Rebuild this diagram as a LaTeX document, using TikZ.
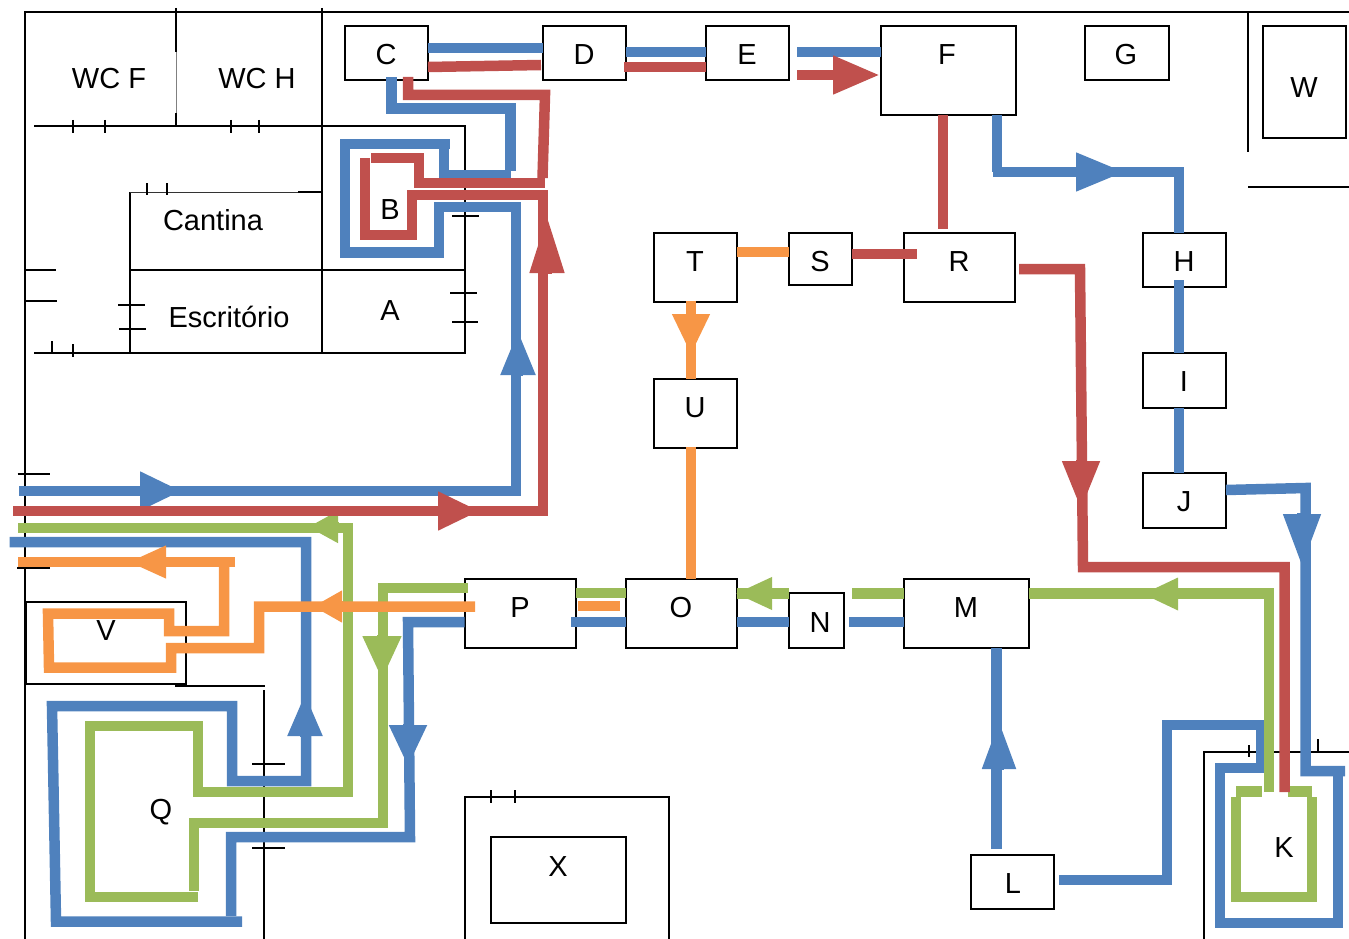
\documentclass[tikz,border=0pt]{standalone}
\usepackage{fontspec}
\setmainfont{Liberation Sans}
\usetikzlibrary{arrows.meta}
\definecolor{cazul}{HTML}{4F81BD}
\definecolor{cvermelho}{HTML}{C0504D}
\definecolor{cverde}{HTML}{9BBB59}
\definecolor{claranja}{HTML}{F79646}
\tikzset{
parede/.style={line width=2pt, black},
caixa/.style={draw, line width=2pt, anchor=north west, inner sep=0pt, outer sep=0pt},
rotulo/.style={inner sep=0pt, yshift=-1pt, font=\fontsize{29}{32}\selectfont},
azul/.style={line width=10.5pt, cazul},
vermelho/.style={line width=10.5pt, cvermelho},
verde/.style={line width=10.5pt, cverde},
laranja/.style={line width=10.5pt, claranja}
}
\begin{document}
\begin{tikzpicture}[x=1pt, y=-1pt]
\useasboundingbox (0,0) rectangle (1349,939);
% paredes
\draw[parede] (1349,12.5)--(24.5,12.5)--(24.5,939);
\draw[parede] (175.5,8)--(175.5,52);
\draw[gray, line width=.8pt] (176.5,52)--(176.5,113);
\draw[parede] (175.5,113)--(175.5,127);
\draw[parede] (322,8)--(322,353);
\draw[parede] (34,126.5)--(465,126.5)--(465,353)--(34,353);
\draw[parede] (73,120)--(73,133);
\draw[parede] (105,120)--(105,133);
\draw[parede] (231,120)--(231,133);
\draw[parede] (259,120)--(259,133);
\draw[parede] (129.5,353)--(129.5,192);
\draw[black!80, line width=1pt] (129.5,192)--(298,192);
\draw[parede] (298,192)--(322,192);
\draw[parede] (147,183)--(147,195);
\draw[parede] (167,183)--(167,195);
\draw[parede] (129.5,270)--(465,270);
\draw[parede] (24,270)--(56,270);
\draw[parede] (24,301)--(57,301);
\draw[parede] (118,305)--(145,305);
\draw[parede] (119,329)--(146,329);
\draw[parede] (52,341)--(52,353);
\draw[parede] (73,344)--(73,357);
\draw[parede] (452,216)--(479,216);
\draw[parede] (450,293)--(477,293);
\draw[parede] (452,322)--(478,322);
\draw[parede] (1248,12)--(1248,152);
\draw[parede] (1248,186.5)--(1349,186.5);
\draw[parede] (17.5,473.5)--(50,473.5);
\draw[parede] (17,568)--(50,568);
\draw[parede] (175,686)--(265,686);
\draw[parede] (264,690)--(264,939);
\draw[parede] (252,763.5)--(285,763.5);
\draw[parede] (252,848)--(285,848);
\draw[parede] (464.5,939)--(464.5,797)--(668.5,797)--(668.5,939);
\draw[parede] (491,790)--(491,803);
\draw[parede] (515,790)--(515,803);
\draw[parede] (1204,939)--(1204,752)--(1349,752);
\draw[parede] (1249,745)--(1249,757);
\draw[parede] (1318,739)--(1318,752);
% caixas
\node[caixa, minimum width=83.5, minimum height=54.5] (C) at (344.5,26) {};
\node[caixa, minimum width=83.5, minimum height=54.5] (D) at (542.5,26) {};
\node[caixa, minimum width=83.5, minimum height=54.5] (E) at (705.5,26) {};
\node[caixa, minimum width=135, minimum height=89] (F) at (880.5,26) {};
\node[caixa, minimum width=83.5, minimum height=54.5] (G) at (1085,26) {};
\node[caixa, minimum width=83.5, minimum height=112] (W) at (1262.5,26) {};
\node[caixa, minimum width=83.5, minimum height=69] (T) at (653.5,232.5) {};
\node[caixa, minimum width=63.5, minimum height=52] (S) at (788.5,232.5) {};
\node[caixa, minimum width=111.5, minimum height=69] (R) at (903.5,232.5) {};
\node[caixa, minimum width=83, minimum height=54.5] (H) at (1143,232.5) {};
\node[caixa, minimum width=83, minimum height=54.5] (I) at (1143,353) {};
\node[caixa, minimum width=83, minimum height=54.5] (J) at (1143,473) {};
\node[caixa, minimum width=83.5, minimum height=68.5] (U) at (653.5,379) {};
\node[caixa, minimum width=111.5, minimum height=69] (P) at (464.5,579) {};
\node[caixa, minimum width=111.5, minimum height=69] (O) at (625.5,579) {};
\node[caixa, minimum width=54.5, minimum height=55] (N) at (789,593) {};
\node[caixa, minimum width=125.5, minimum height=69] (M) at (903.5,579) {};
\node[caixa, minimum width=83, minimum height=54.5] (L) at (971,854.5) {};
\node[caixa, minimum width=135.5, minimum height=86] (X) at (490.5,837) {};
\node[caixa, minimum width=160, minimum height=82] (V) at (26,602) {};
% textos
\node[rotulo] (wcf) at (109,78) {WC F};
\node[rotulo] (wch) at (257,78) {WC H};
\node[rotulo] (cantina) at (213,219) {Cantina};
\node[rotulo] (escritorio) at (229,316) {Escritório};
\node[rotulo] (lA) at (390,310) {A};
\node[rotulo] (lB) at (390,209) {B};
\node[rotulo] (lC) at (386,54) {C};
\node[rotulo] (lD) at (584,54) {D};
\node[rotulo] (lE) at (747,54) {E};
\node[rotulo] (lF) at (947,54) {F};
\node[rotulo] (lG) at (1126,54) {G};
\node[rotulo] (lW) at (1304,87) {W};
\node[rotulo] (lT) at (695,261) {T};
\node[rotulo] (lS) at (820,261) {S};
\node[rotulo] (lR) at (959,261) {R};
\node[rotulo] (lH) at (1184,261) {H};
\node[rotulo] (lI) at (1184,381) {I};
\node[rotulo] (lJ) at (1184,501) {J};
\node[rotulo] (lU) at (695,407) {U};
\node[rotulo] (lP) at (520,607) {P};
\node[rotulo] (lO) at (681,607) {O};
\node[rotulo] (lN) at (820,622) {N};
\node[rotulo] (lM) at (966,607) {M};
\node[rotulo] (lQ) at (161,811) {Q};
\node[rotulo] (lV) at (106,630) {V};
\node[rotulo] (lK) at (1284,847) {K};
\node[rotulo] (lL) at (1013,883) {L};
\node[rotulo] (lX) at (558,866) {X};
% azul
\draw[azul] (19,491)--(516,491)--(516,207)--(439,207)--(439,252.5)--(345,252.5)--(345,144)--(450,144);
\draw[azul] (444,144)--(444,175)--(510.5,175);
\draw[azul] (510.5,171)--(510.5,108.5)--(391.5,108.5)--(391.5,77);
\draw[azul] (C.east|-0,48)--(D.west|-0,48);
\draw[azul] (D.east|-0,52)--(E.west|-0,52);
\draw[azul] (797,52)--(F.west|-0,52);
\draw[azul] (997,115)--(997,172);
\draw[azul] (993,172)--(1179,172)--(H.north-|1179,0);
\draw[azul] (1179,280)--(I.north-|1179,0);
\draw[azul] (I.south-|1179,0)--(J.north-|1179,0);
\draw[azul] (J.east|-0,490)--(1305.5,488)--(1305.5,771)--(1345,771);
\draw[azul] (1338,766)--(1338,923)--(1220,923)--(1220,768)--(1261,768)--(1261,725)--(1167,725)--(1167,880)--(1059,880);
\draw[azul] (996.5,849)--(M.south-|996.5,0);
\draw[azul] (O.east|-0,622)--(N.west|-0,622);
\draw[azul] (849,622)--(M.west|-0,622);
\draw[azul] (571,622)--(O.west|-0,622);
\draw[azul] (P.west|-0,622)--(408,622)--(410,837)--(231,837)--(231,916);
\draw[azul] (242,921.5)--(56,921.5)--(52,706)--(232,706)--(232,781)--(306,781)--(306,542)--(9.5,542);
\draw[azul, -{Triangle[length=42pt,width=36pt]}] (139,491)--(182,491);
\draw[azul, -{Triangle[length=45pt,width=32pt]}] (518,376)--(518,330);
\draw[azul, -{Triangle[length=49pt,width=36pt]}] (1075,172)--(1125,172);
\draw[azul, -{Triangle[length=53pt,width=35pt]}] (1302,513)--(1302,567);
\draw[azul, -{Triangle[length=49pt,width=31pt]}] (999,770)--(999,720);
\draw[azul, -{Triangle[length=42pt,width=35pt]}] (408,724)--(408,767);
\draw[azul, -{Triangle[length=43pt,width=32pt]}] (305,737)--(305,693);
% verde
\draw[verde] (M.east|-0,593.5)--(1269,593.5)--(1269,792);
\draw[verde] (M.west|-0,593.5)--(852,593.5);
\draw[verde] (N.west|-0,593.5)--(737,593.5);
\draw[verde] (O.west|-0,593)--(P.east|-0,593);
\draw[verde] (468,588)--(383,588)--(383,823)--(194,823)--(194,891);
\draw[verde] (198,897)--(90,897)--(90,726)--(198,726)--(198,792)--(348,792)--(348,528)--(18,528);
\draw[verde] (1236,791.5)--(1262,791.5);
\draw[verde] (1288,791.5)--(1312,791.5);
\draw[verde] (1236,797)--(1236,897)--(1312,897)--(1312,797);
\draw[verde, -{Triangle[length=36pt,width=30pt]}] (1179,594)--(1142,594);
\draw[verde, -{Triangle[length=37pt,width=30pt]}] (773,593.5)--(735,593.5);
\draw[verde, -{Triangle[length=44pt,width=36pt]}] (382,635)--(382,680);
\draw[verde, -{Triangle[length=30pt,width=30pt]}] (339,527)--(308,527);
% vermelho
\draw[vermelho] (13,511)--(543,511)--(543,195)--(412,195)--(412,235)--(365,235)--(365,158);
\draw[vermelho] (371,158)--(419,158)--(419,183)--(545,183);
\draw[vermelho] (542.5,178)--(545,95)--(408,95)--(408,77);
\draw[vermelho] (C.east|-0,67)--(541,65);
\draw[vermelho] (624,67)--(E.west|-0,67);
\draw[vermelho] (943,115)--(943,229);
\draw[vermelho] (S.east|-0,254)--(917,254);
\draw[vermelho] (1019,269)--(1080,269)--(1083,567)--(1284.5,567)--(1284.5,792);
\draw[vermelho] (797,75)--(835,75);
\draw[vermelho, -{Triangle[length=47pt,width=36pt]}] (833,75)--(880,75);
\draw[vermelho, -{Triangle[length=42pt,width=36pt]}] (437,511)--(480,511);
\draw[vermelho, -{Triangle[length=58pt,width=32pt]}] (547,274)--(547,215);
\draw[vermelho, -{Triangle[length=49pt,width=35pt]}] (1081,460)--(1081,510);
% laranja
\draw[laranja] (T.east|-0,252)--(S.west|-0,252);
\draw[laranja] (691,447)--(691,579);
\draw[laranja] (691,301)--(691,379);
\draw[laranja] (620,606)--(578,606);
\draw[laranja] (475,606.5)--(259,606.5)--(259,648)--(171,648)--(171,667.5)--(49,667.5)--(48,613.5)--(169,613.5)--(169,631)--(224,631)--(224,562);
\draw[laranja] (235,562)--(18,562);
\draw[laranja, -{Triangle[length=41pt,width=35pt]}] (691,313)--(691,355);
\draw[laranja, -{Triangle[length=29pt,width=30pt]}] (343,606.5)--(313,606.5);
\draw[laranja, -{Triangle[length=38pt,width=30pt]}] (167,562)--(128,562);
\end{tikzpicture}
\end{document}
